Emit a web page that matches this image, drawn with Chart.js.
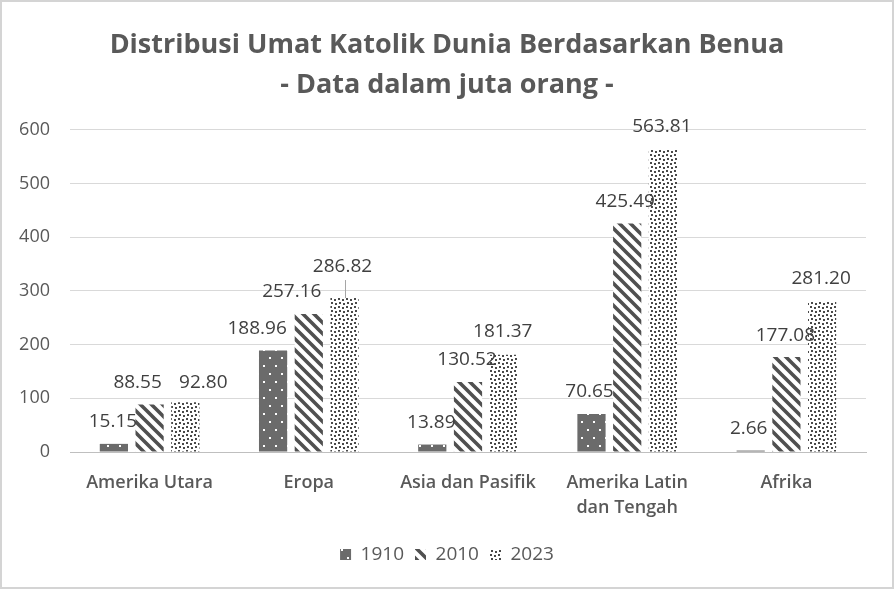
<!DOCTYPE html>
<html>
<head>
<meta charset="utf-8">
<script src="https://cdn.jsdelivr.net/npm/chart.js@4"></script>
<style>
  body { margin: 0; background: #fff; }
  .wrap { width: 894px; height: 589px; box-sizing: border-box; border: 2px solid #d4d4d4; background: #fff; }
</style>
</head>
<body>
<div class="wrap"><canvas id="chart" width="890" height="585"></canvas></div>
<script>
const categories = ["Amerika Utara", "Eropa", "Asia dan Pasifik", ["Amerika Latin", "dan Tengah"], "Afrika"];
const years = ["1910", "2010", "2023"];
const data1910 = [15.15, 188.96, 13.89, 70.65, 2.66];
const data2010 = [88.55, 257.16, 130.52, 425.49, 177.08];
const data2023 = [92.80, 286.82, 181.37, 563.81, 281.20];
const yTicks = [0, 100, 200, 300, 400, 500, 600];

// label nudges (px) relative to bar centre / bar top, like the excel layout
const labelDx = [[-1, -16, -1, -2, -2], [-12, -17, -1, -2, -1], [18, -2, -1, -1, -1]];
const labelDy = [[-22, -22, -22, -22, -22], [-22, -22, -22, -22, -21], [-20, -31, -23, -23, -22]];

function makePattern(kind) {
  const c = document.createElement("canvas");
  const g = c.getContext("2d");
  if (kind === "solid-dots") {
    c.width = 12; c.height = 16;
    g.fillStyle = "#6b6b6b";
    g.fillRect(0, 0, 12, 16);
    g.fillStyle = "#ffffff";
    g.fillRect(3, 3, 2, 2);
    g.fillRect(9, 11, 2, 2);
  } else if (kind === "stripes") {
    c.width = 11; c.height = 11;
    g.fillStyle = "#ffffff";
    g.fillRect(0, 0, 11, 11);
    g.strokeStyle = "#505050";
    g.lineWidth = 3.6;
    g.beginPath();
    g.moveTo(-2, -2); g.lineTo(13, 13);
    g.moveTo(-13, -2); g.lineTo(2, 13);
    g.moveTo(9, -2); g.lineTo(24, 13);
    g.stroke();
  } else {
    c.width = 8; c.height = 8;
    g.fillStyle = "#ffffff";
    g.fillRect(0, 0, 8, 8);
    g.fillStyle = "#4a4a4a";
    g.fillRect(0, 0, 2, 2);
    g.fillRect(4, 1, 2, 2);
    g.fillRect(1, 4, 2, 2);
    g.fillRect(5, 5, 2, 2);
  }
  return g.createPattern(c, "repeat");
}

const valueLabels = {
  id: "valueLabels",
  afterDatasetsDraw(chart) {
    const ctx = chart.ctx;
    ctx.save();
    ctx.font = "19px 'Open Sans'";
    ctx.fillStyle = "#404040";
    ctx.textAlign = "center";
    ctx.textBaseline = "middle";
    chart.data.datasets.forEach((ds, i) => {
      chart.getDatasetMeta(i).data.forEach((bar, j) => {
        const x = bar.x + labelDx[i][j];
        const y = bar.y + labelDy[i][j];
        ctx.fillText(ds.data[j].toFixed(2), x, y);
        if (labelDy[i][j] < -28) {
          // leader line
          ctx.strokeStyle = "#a6a6a6";
          ctx.lineWidth = 1;
          ctx.beginPath();
          ctx.moveTo(bar.x + 1, y + 13);
          ctx.lineTo(bar.x + 1, bar.y);
          ctx.stroke();
        }
      });
    });
    ctx.restore();
  }
};

const ctx = document.getElementById("chart").getContext("2d");
const chart = new Chart(ctx, {
  type: "bar",
  data: {
    labels: categories,
    datasets: [
      { label: years[0], data: data1910, backgroundColor: makePattern("solid-dots") },
      { label: years[1], data: data2010, backgroundColor: makePattern("stripes") },
      { label: years[2], data: data2023, backgroundColor: makePattern("dots") },
    ],
  },
  options: {
    responsive: false,
    animation: false,
    categoryPercentage: 0.673,
    barPercentage: 0.79,
    layout: { padding: { left: 0, right: 0, top: 0, bottom: 13 } },
    plugins: {
      title: {
        display: true,
        text: ["Distribusi Umat Katolik Dunia Berdasarkan Benua", "- Data dalam juta orang -"],
        color: "#595959",
        font: { family: "'Open Sans'", size: 27, weight: "bold", lineHeight: 1.48 },
        padding: { top: 23, bottom: 25 },
      },
      legend: {
        position: "bottom",
        labels: {
          color: "#595959",
          font: { family: "'Open Sans'", size: 19 },
          boxWidth: 11,
          boxHeight: 11,
          padding: 11,
        },
      },
      tooltip: { enabled: false },
    },
    scales: {
      x: {
        grid: { display: false },
        border: { color: "#bfbfbf" },
        ticks: {
          color: "#595959",
          font: { family: "'Open Sans'", size: 18, weight: "600", lineHeight: 1.39 },
          padding: 10,
          maxRotation: 0,
          autoSkip: false,
        },
        afterFit(scale) { scale.height = 82; },
      },
      y: {
        min: 0,
        max: 600,
        afterBuildTicks(scale) { scale.ticks = yTicks.map(v => ({ value: v })); },
        grid: { color: "#d9d9d9", drawTicks: false },
        border: { display: false },
        ticks: {
          color: "#595959",
          font: { family: "'Open Sans'", size: 18 },
          padding: 20,
        },
        afterFit(scale) { scale.width = 68; },
      },
      // empty right margin so the title stays centred on the page
      yRight: {
        position: "right",
        grid: { display: false },
        border: { display: false },
        ticks: { display: false },
        afterFit(scale) { scale.width = 26; },
      },
    },
  },
  plugins: [valueLabels],
});
</script>
</body>
</html>
